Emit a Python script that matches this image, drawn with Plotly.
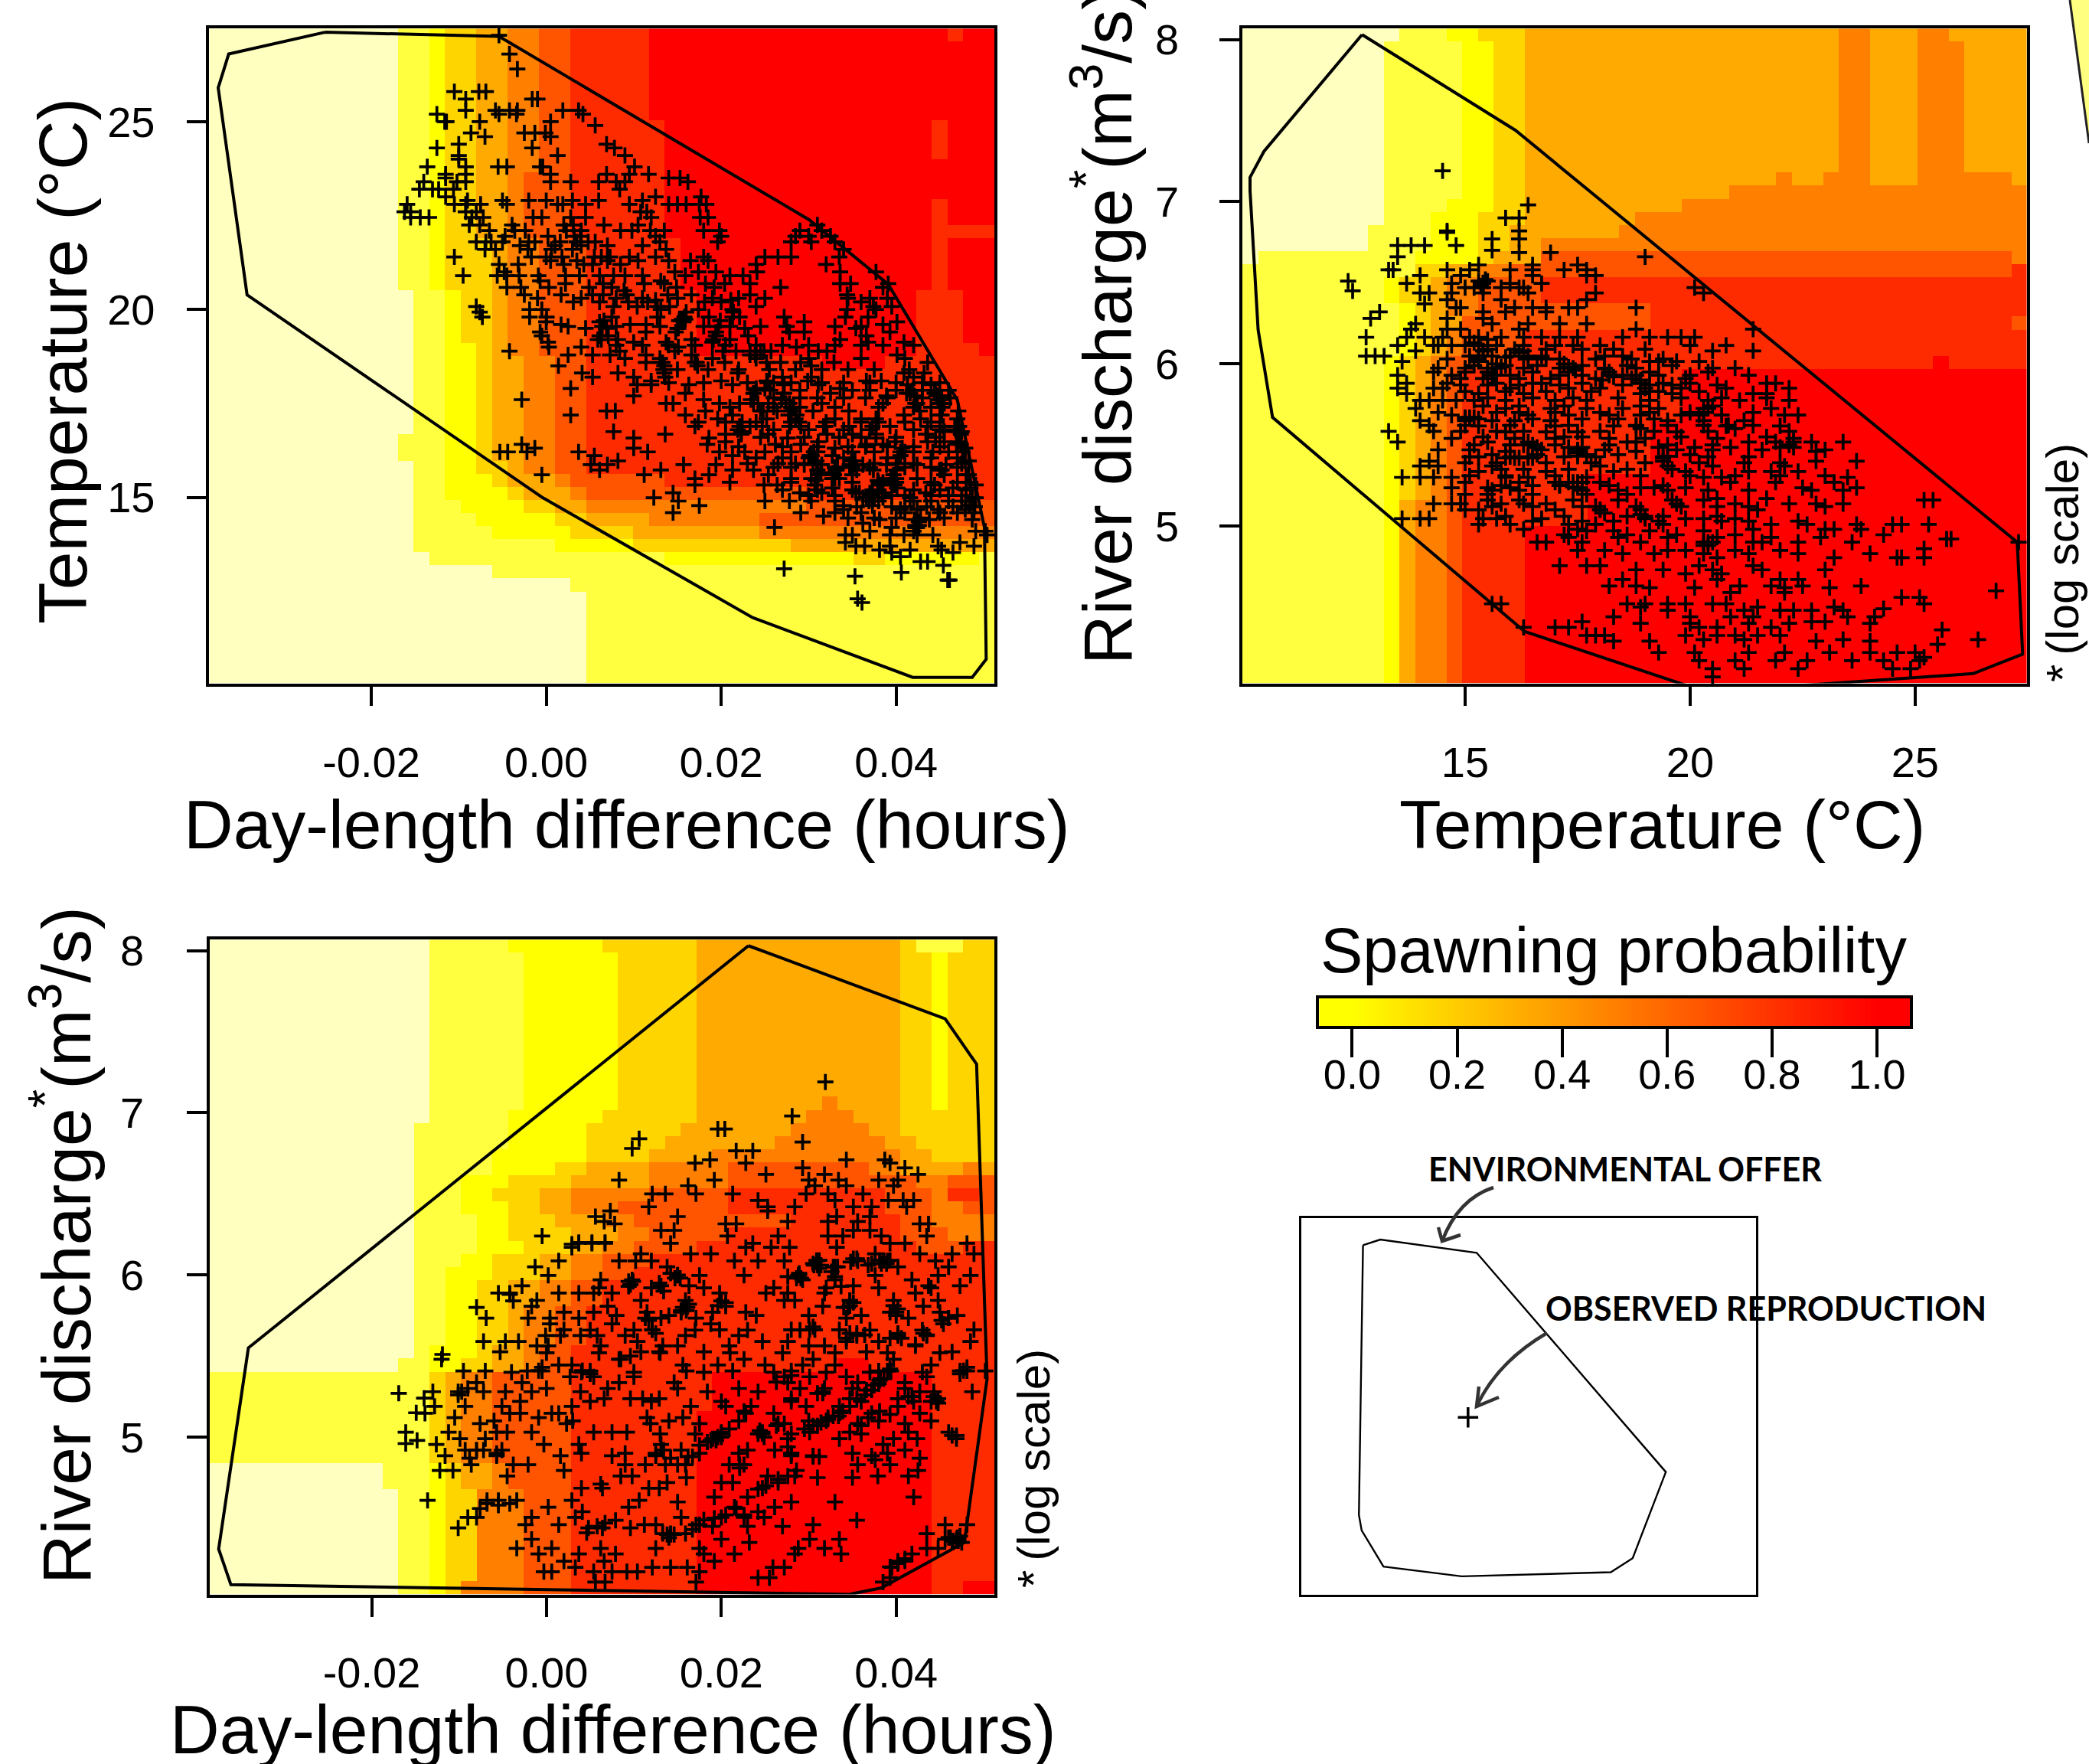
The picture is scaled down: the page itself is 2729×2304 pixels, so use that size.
import numpy as np
import plotly.graph_objects as go

W, H = 2729, 2304

# heat.colors(9), reversed: level 0 = palest, level 8 = red
LEVEL_COLORS = ["#FFFFBF", "#FFFF40", "#FFFF00", "#FFD500", "#FFAA00", "#FF8000", "#FF5500", "#FF2B00", "#FF0000"]

DL_TICKS = [-0.02, 0.0, 0.02, 0.04]
DL_LABELS = ["-0.02", "0.00", "0.02", "0.04"]
T_TICKS_Y = [15, 20, 25]
T_LABELS = ["15", "20", "25"]
Q_TICKS = [5, 6, 7, 8]
Q_LABELS = ["5", "6", "7", "8"]
PROB_TICKS = [0, 0.2, 0.4, 0.6, 0.8, 1.0]
PROB_LABELS = ["0.0", "0.2", "0.4", "0.6", "0.8", "1.0"]

DL_RANGE = [-0.03852, 0.05125]
T_RANGE = [10.05, 27.48]
Q_RANGE = [4.03, 8.068]

# Probability grids: (rows, "level:end_column ...") from the top row down, 50 x 50
GRID1 = [
    (1, "0:12 1:14 2:15 3:17 4:19 5:21 6:23 7:28 8:47 7:48 8:50"),
    (6, "0:12 1:14 2:15 3:17 4:19 5:21 6:23 7:28 8:50"),
    (3, "0:12 1:14 2:15 3:17 4:19 5:21 6:23 7:29 8:46 7:47 8:50"),
    (1, "0:12 1:14 2:15 3:17 4:19 5:21 6:23 7:29 8:50"),
    (2, "0:12 1:14 2:15 3:17 4:19 5:20 6:23 7:29 8:50"),
    (2, "0:12 1:14 2:15 3:17 4:19 5:20 6:23 7:29 8:46 7:47 8:50"),
    (1, "0:12 1:14 2:15 3:17 4:19 5:20 6:23 7:29 8:46 7:50"),
    (4, "0:12 1:14 2:15 3:18 4:19 5:21 6:24 7:30 8:46 7:47 8:50"),
    (4, "0:13 1:15 2:16 3:18 4:19 5:21 6:24 7:31 8:45 7:48 8:50"),
    (1, "0:13 1:15 2:17 3:18 4:19 5:21 6:24 7:31 8:45 7:49 8:50"),
    (1, "0:13 1:15 2:17 3:18 4:20 5:22 6:24 7:39 8:43 7:50"),
    (5, "0:13 1:15 2:17 3:18 4:20 5:22 6:24 7:50"),
    (2, "0:12 1:15 2:17 3:18 4:20 5:22 6:24 7:50"),
    (1, "0:13 1:15 2:17 3:19 4:20 5:22 6:24 7:50"),
    (1, "0:13 1:15 2:18 3:19 4:22 5:23 6:29 7:50"),
    (1, "0:13 1:15 2:19 3:20 4:23 5:24 6:38 7:50"),
    (1, "0:13 1:16 2:20 3:22 4:24 5:38 6:50"),
    (1, "0:13 1:17 2:22 3:24 4:28 5:35 6:50"),
    (1, "0:13 1:18 2:23 3:27 4:35 5:50"),
    (1, "0:13 1:22 2:27 3:37 4:50"),
    (1, "0:14 1:29 2:41 3:43 2:49 1:50"),
    (1, "0:18 1:50"),
    (1, "0:23 1:50"),
    (7, "0:24 1:50"),
]
GRID2 = [
    (1, "0:10 1:13 2:15 3:18 4:38 5:40 4:43 5:45 4:50"),
    (10, "0:9 1:14 2:16 3:18 4:38 5:40 4:43 5:46 4:50"),
    (1, "0:9 1:14 2:16 3:18 4:34 5:35 4:37 5:40 4:43 5:49 4:50"),
    (1, "0:9 1:14 2:16 3:18 4:31 5:50"),
    (1, "0:9 1:13 2:16 3:18 4:28 5:50"),
    (1, "0:9 1:12 2:15 3:18 4:25 5:50"),
    (1, "0:8 1:12 2:15 3:17 4:24 5:50"),
    (1, "0:8 1:12 2:15 3:17 4:19 5:50"),
    (1, "0:1 1:11 2:15 3:16 4:19 6:49 5:50"),
    (1, "1:11 3:13 4:15 5:17 6:49 7:50"),
    (2, "1:9 2:10 3:12 4:13 5:15 6:19 7:50"),
    (1, "1:10 2:11 3:12 4:13 5:15 6:26 7:50"),
    (1, "1:10 2:11 3:12 4:14 6:26 7:49 6:50"),
    (2, "1:10 2:11 3:12 4:13 5:14 6:18 7:50"),
    (1, "1:9 2:10 3:11 4:12 5:13 6:17 7:44 8:45 7:50"),
    (4, "1:9 2:10 3:11 4:12 5:13 6:14 7:28 8:50"),
    (4, "1:9 2:10 3:11 4:12 5:13 6:14 7:26 8:50"),
    (2, "1:9 2:10 3:11 4:12 5:13 6:14 7:22 8:50"),
    (2, "1:9 2:10 4:11 5:13 6:14 7:22 8:50"),
    (12, "1:9 2:10 4:11 5:13 6:14 7:18 8:50"),
    (1, "1:10 4:11 5:13 6:14 7:18 8:50"),
]
GRID3 = [
    (1, "0:14 1:19 2:25 3:31 4:44 3:45 1:48 3:50"),
    (11, "0:14 1:20 2:26 3:31 4:44 3:46 2:47 3:50"),
    (1, "0:14 1:20 2:26 3:31 4:39 5:40 4:44 3:46 2:47 3:50"),
    (1, "0:14 1:19 2:25 3:31 4:38 5:41 4:44 3:50"),
    (1, "0:13 1:19 2:24 3:30 4:37 5:42 4:44 3:50"),
    (1, "0:13 1:19 2:24 3:29 4:36 5:43 4:45 3:50"),
    (1, "0:13 1:18 2:24 3:28 4:32 5:44 4:46 3:50"),
    (1, "0:13 1:18 2:22 3:24 4:28 5:33 6:42 5:44 4:48 5:49 4:50"),
    (1, "0:13 1:16 2:19 3:23 4:28 5:33 6:45 5:47 6:50"),
    (1, "0:13 1:16 2:18 3:21 4:23 5:28 6:33 7:43 6:46 5:47 7:49 6:50"),
    (1, "0:13 1:16 2:19 3:21 4:23 5:26 6:33 7:43 6:46 5:48 6:50"),
    (1, "0:13 1:17 2:19 3:22 4:25 5:27 6:37 7:44 6:46 5:50"),
    (1, "0:13 1:17 2:19 3:23 4:26 5:28 6:33 7:44 6:47 5:50"),
    (1, "0:13 1:17 2:20 3:23 4:25 5:27 6:31 7:45 6:48 7:50"),
    (1, "0:13 1:16 2:18 3:21 4:23 5:25 6:28 7:50"),
    (1, "0:13 1:15 2:18 3:21 4:23 5:25 6:27 7:50"),
    (2, "0:13 1:15 2:17 3:19 4:21 5:23 6:25 7:50"),
    (3, "0:13 1:15 2:17 3:19 4:20 5:22 6:24 7:50"),
    (1, "0:13 1:14 2:17 3:18 4:20 5:21 6:23 7:50"),
    (1, "0:12 1:14 2:16 3:18 4:20 5:21 6:23 7:40 8:42 7:50"),
    (3, "1:14 3:15 4:16 5:18 6:23 7:32 8:46 7:50"),
    (4, "1:14 3:15 4:16 5:18 6:23 7:31 8:46 7:50"),
    (2, "0:11 1:14 2:15 3:16 4:18 5:19 6:23 7:31 8:46 7:50"),
    (7, "0:12 1:14 2:15 3:17 5:20 6:23 7:31 8:46 7:50"),
    (1, "0:12 1:14 2:15 3:16 5:20 6:23 7:31 8:46 7:48 8:50"),
]

# Convex hulls of the environmental offer
HULL1_DL = [-25.3, -5.4, 30.05, 39.1, 47.0, 50.1, 50.3, 48.7, 41.9, 23.6, -0.4, -34.2, -37.5, -36.3, -25.3]
HULL1_T = [27.38, 27.27, 22.39, 20.67, 17.59, 14.2, 10.69, 10.21, 10.21, 11.8, 14.99, 20.39, 25.9, 26.8, 27.38]
HULL2_T = [12.71, 16.12, 27.27, 27.39, 26.29, 21.6, 20.1, 16.32, 10.72, 10.4, 10.22, 10.22, 10.53, 12.71]
HULL2_Q = [8.03, 7.44, 4.90, 4.21, 4.09, 4.0, 4.0, 4.35, 5.67, 6.21, 7.07, 7.15, 7.31, 8.03]
HULL3_DL = [23.1, 45.6, 49.2, 50.4, 47.8, 38.3, 34.6, -36.1, -37.5, -34.1, 23.1]
HULL3_Q = [8.03, 7.58, 7.30, 5.36, 4.35, 4.07, 4.03, 4.09, 4.31, 5.55, 8.03]
INSET_X = [13.5, 17.3, 38.5, 80.1, 72.8, 68.0, 35.2, 18.0, 13.2, 12.6, 13.5]
INSET_Y = [92.8, 94.3, 90.8, 32.6, 9.7, 6.0, 4.9, 7.5, 17.1, 21.2, 92.8]
INSET_PX = [36.6]
INSET_PY = [47.1]

# Observed reproduction, rows of (temperature, [day-length difference in 1/1000 h])
OBS1 = [
 (27.3,[-5.4]),(26.8,[-4.2]),(26.4,[-3.3]),(25.8,[-10.5,-7.7,-6.9]),(25.6,[-9.2,-1.6,-1.0]),
 (25.3,[-9.2,-5.8,-4.2,-3.3,1.9,3.7]),(25.2,[-12.5,-5.4,-3.4,4.2]),(25.0,[-11.4,-11.6,-7.6,0.5]),(24.9,[5.6]),
 (24.7,[-8.6,-2.5,-1.3,-0.1]),(24.6,[-7,.5]),(24.4,[-10,6.9]),(24.3,[-12.5,-1.6,7.8]),(24.1,[-10,1.3,9]),(24.0,[-10]),
 (23.8,[-13.6,-9.2,-5.5,-4.5,-0.7,-0.4,10.1]),(23.6,[-11.5,-9.2,.5,6.9,9.5,11.7]),(23.5,[-11.5,14,15.3]),
 (23.4,[-14,-10.2,-9.2,.5,2.8,6,8,9,16.2]),(23.2,[-14.5,-13,-12.3,-10.6,8.4]),(23.0,[-11.5,12.5,17.7]),(22.9,[-9,-5,-2,0,3,6,11]),
 (22.8,[-15.9,-10.5,-9.2,-7.5,-4.5,1.3,1.9,4.5,9.5,14,15,16,17.5,18.3]),(22.6,[-16.2,-9.2,-8,10.8,11.5,-15.5]),
 (22.45,[-15.5,-14.4,-13.4,-8.5,-7.2,-1.5,-0.5,2.8,4.5,12,17.6,18.5]),(22.25,[-8.8,-7.6,-3.9,2,3.1,6.6,10.5,31]),
 (22.1,[-6.5,-3.6,-2.4,2.3,4,8.5,9.8,11.9,13.5,18,19.8,31.5,29]),(21.95,[-4.7,.2,3.2,3.9,12.5,20,28.5,30,32.5]),
 (21.8,[-8,-6.9,-6.3,-5,-2,-1.3,1.6,3.5,4.8,5.6,13,19.6,28,30.3,33]),(21.7,[-3,1,4,7,11]),(21.6,[-7,-5.8,-2.1,.6,3,13.7,34]),
 (21.4,[-10.5,-1.7,0,1.8,5.5,6.3,7.3,9.5,12.5,18,25,26.5,28,33.5]),(21.3,[0.5,3.5,7,10.5,14,16.5,18.5]),(21.2,[-5.4,-3.2,2,4.3,5.3,8.5,24,32]),
 (21,[-4.8,33.6,14.7,17.4,19.4,24.1,37.7]),(20.9,[-9.5,-5.6,-4.5,-3.1,-.9,2.2,3.8,6.1,7.7,9,11,15.9,21,22.5]),
 (20.76,[-.7,13.1]),(20.69,[2.2,6.5,11.2,13.5,18.2,20.4,23.3,33.6,34.8,39.1]),(20.59,[-4.5,-2.9,.3,4.9,7.5,14.9,19.2,26.8,38.5]),
 (20.5,[8.9]),(20.39,[-2.5,1.7,5.3,6.5,9.2,13.9,16.6,23.3,34.4]),(20.3,[-1,4,8,11,15,19,22,25,34.5,37,39]),(20.25,[12.5,21.1]),(20.2,[3.1,6.1,11.6,18.1,20,36,9.4]),(20.08,[-8,7.7,10.4,12.7,14.1,24,39.5,37.4]),
 (20,[-1.9,-.5,17.4,21.3,34.4,37.7,13.1]),(19.93,[-7.6,16,21.4]),(19.8,[-7.3,-1.9,.04,7.5,18.6,22.1,27.2,34.2,36.8,15.8,12.7,21.3]),
 (19.74,[15.5,15.9]),(19.7,[15.2,15.6,6.6,19.9]),(19.67,[0,6.1,15.7,29.5,40.1]),(19.6,[1.7,9.6,11.4,38.5]),(19.55,[2.5,8,13,18,21,24.5,27.5,33,36,6.4,19.7]),(19.5,[4.5,6.9,15.1,22.7,35.4,15]),
 (19.4,[-.7,11.4,27.8,29.5,39.3,19.4,14.8]),(19.3,[-.5,19.4,36.6,23.1,6.1,7.1]),(19.2,[8.2,16.6,21,33.6,19.1,5.9,6.3]),(19.13,[.2,10,13.7,19,36.8,40.9]),
 (19.05,[8,11,14,17,20.5,24,27,30,33,36,38.5,42]),(19,[.3,4,15.1,28.6]),(18.89,[-4.2,8.4,14.7,20.2,21.7,23.3,24.9,31.1,32.1,25.7,24.5]),(18.79,[2.5,5.3,7.3,11.4,16.6,40.1,23.9,23.3]),
 (18.7,[9,19,24,30,36,41,13]),(18.59,[11.4,13.1,17,20.4,25.2,29.1,32.9,43.6,26.8,13.3,17.2]),(18.5,[1.4,30.3,13.5,17.3]),(18.4,[15,18.5,22,25.5,28.5,31.5,34.5,37.5,41.5,13.4]),(18.31,[4.1,8.2,13.5,21.9,40.9,43.2]),
 (18.2,[5.3,10,27,30.3,42,13.6]),(18.1,[12,20,29.9,36.6,38.3,25.2]),(18.05,[14,18,23,26,28,31.5,34,37,40,43,45,25.3]),(18,[10.4,12,16.3,21.3,31.1,41.3,44,27.2]),(17.9,[2.8,33.6,25,24]),
 (17.85,[24,29,35,37,40,43,46,25.6,41.9,44.5]),(17.77,[15.9,23.7,27.2,32.5,41.6,44.4,41.2,27.1,23.7]),(17.7,[10,38.9,44.8,45,42.1,44.6]),(17.65,[26,29,31,34,36.5,39,43,46.2]),(17.6,[-2.8,18,45.2,26.9,23.4,44.8]),
 (17.5,[13.7,14.5,19.8,22.1,23.7,25.4,27.8,31.5,38.5,42.2,45.5,27.4,45.1,24.2,42.4,45]),(17.4,[21,26,29,33,38,42,44,28,28.3,45.3]),(17.3,[6.9,7.9,18.2,24.5,26.4,30.5,34.6,47.1,28,42.7,24.8]),
 (17.19,[2.8,15.9,21.3,28.6,40.9,45.2,27.7,45]),(17.09,[19.6,33,36,37.7,42.8,28.5,25.2,47]),(17,[24,28,32,36,38,41,44,20.5,17.4,28.9,22.4]),
 (16.89,[17,22.1,23.3,24.7,27.8,29.1,31.9,34.6,37.3,39.3,43.6,46.7,31.7,45.4,47.2]),(16.8,[26,30,34,37,42,45,46.8,21.9]),(16.75,[7.7,22.3,47.1,47.5,45.5]),
 (16.68,[13.6,20.5,25.4,32.1,35,43.4,37.7,47.4,22.3]),(16.6,[24.5,29.5,33.5,36,40,44.5]),(16.58,[10,18.6,27.6,37.7]),(16.48,[20.5,31.1,39.9,43.6,45.5,47.1]),
 (16.41,[-2.8,18.4,26.2,29.1,36.6,38.5,46.9,47.4]),(16.35,[22,27,31,34.5,36.5,39,42,45]),(16.31,[-1.3,10,33,47.9,40.7]),(16.21,[-5.3,-4.4,-2.2,3.7,11.6,19.8,25,22.7,42,44.2,28,31,35,37.5,41,46,40.5,47.6,30.6]),
 (16.11,[5.5,21.3,30.1,32.7,40.5,30.3,30.35]),(16.05,[24,27,34,39,44,47,40.2,30]),(15.97,[8.2,35,48.3,47.9,30.9,34.9,35.3]),(15.9,[23,26.5,28.5,30.5,37.5,40,42,47.5]),(15.87,[5.1,7,15.7,19.4,29.5,31.5,35,36.2,38.9,42.4,45.7,35.3,34.7,35.05]),
 (15.8,[26,28,33,37,41,44,47,35,34.7,33.3]),(15.73,[6.1,13.1,21.3,23.7,33.2,37.4,45.2,45,33.1,40,35.5,31]),(15.65,[32.8,31.4]),(15.6,[-.5,11.2,18.6,25.4,35,39.7,48.3,45.5,32.9,48,31.1]),
 (15.5,[17,28,30.3,32.7,42.4,33,40,33.5,39.4]),(15.45,[37.9,30.8,39.4]),(15.4,[21,28,35,38,40,44,47,38.5,48.5]),(15.33,[17,24.9,26.4,30.7,38.1,44.4,49.1,38.2,39.8]),(15.25,[32.7,40.1,46.5,48.5]),
 (15.2,[27,31,35,38,42,45,48,37.3]),(15.12,[14.5,29,31.5,35.4,43.4,35.8,37,38.4]),(15.05,[30,33,37,39.5,41,44,46,47.5]),(14.99,[12.3,36.2,38.5,41.6,49.1,48.7,36.6,37.5]),(14.9,[15.1,25,27.8,30.3,47.5,33,38,42,44,46,48,36.9]),
 (14.78,[17.5,37.3,34,48.4]),(14.75,[35.5,39.5,41,43.5,46.5,49]),(14.68,[34,40.5,42.4,44.8,47.9]),(14.59,[14.5,29.1,33,36,41,45,47,48.9]),(14.5,[31.7]),(14.45,[34.5,37.5,40,42.8,45.5]),(14.41,[38.1,43.8,48.7,42.1]),
 (14.35,[42.6]),(14.31,[36.2]),(14.25,[42.2,42.6]),(14.2,[26.1,42.2,39.5,42.4,42.3]),(14.1,[37,49.1,50.2,42]),(14,[34.2,35,39.3,40.9,44.2,50.4,42.4]),(13.8,[34.2,47.3]),
 (13.7,[35.4,36.4,39.3,44.8,48.9]),(13.6,[38.1,41.6,45.2]),(13.53,[39.5,46.5]),(13.42,[40.5]),(13.29,[42.8,43.6]),(13.19,[45.4]),
 (13.1,[27.2]),(13,[40.6]),(12.9,[35.3]),(12.8,[46,46.1,45.9]),(12.3,[35.6]),(12.2,[36.1]),
]

# (river discharge axis value, [temperature])
OBS2 = [
 (7.19,[14.5]),(6.98,[16.4]),(6.9,[15.9,16.2]),(6.82,[14.6,16.2]),(6.81,[14.6]),(6.77,[15.6,16.2]),(6.73,[14.1,14.8,13.8,13.5]),
 (6.7,[15.6]),(6.686,[16.9,16.2]),(6.66,[13.5,19]),(6.61,[17.5,15.3,16.5]),(6.58,[13.3,13.4,14.6,15.1,16,16.5,17.2,17.7]),
 (6.545,[14,14.9,16.5,17.7,17.9]),(6.52,[15.45]),(6.5,[15.4]),(6.496,[13.7,15.4,16,16.7,14.7]),(6.48,[15.35]),(6.47,[15,15.2,15.4,15.8,16.2,16.3,20.1]),
 (6.437,[14,14.2,15.4,14.7,16.4,17.9,20.3]),(6.396,[15.8,17.7,14.6]),(6.37,[14.1]),(6.346,[14.8,14.9,16.1,16.5,17.5,17.3,18.8,16.8]),
 (6.32,[13.1,15.4,15.9,16.8]),(6.51,[12.4,15.3,15.5]),(6.45,[12.5]),(6.28,[12.9,14.6,15.4]),(6.247,[17.7,17.1,13.9,16.4,15.6]),
 (6.214,[14.9,14.6,13.8,16.2,18.8,21.4]),(6.164,[12.8,13.7,14.1,14.5,15.1,15.3,16.3,15.8,16.7,17.1,17.5,18.5,19.1,19.5,19.8,20.1]),
 (6.15,[15.5]),(6.13,[15.2]),(6.114,[13.5,14.3,14.4,14.7,15,15.3,15.7,16.3,17,17.4,18,20,20.8]),(6.09,[15.5,16.1,16.8,17.6,18.3,19]),(6.08,[13.9,15.4,16.3,20.5,21.4,15.4]),
 (6.07,[16.2]),(6.05,[15.3]),(6.048,[12.8,13,13.2,15.1,15.6,16,16.4,16.7,18.5,18.1]),(6.04,[15.9]),(6.03,[14.6,15.3,16.8,17.1,17.9,18.7,19.4,16.4]),(6.015,[13.6,15.3,19.1,19.3,19.7,20.2]),
 (6,[15.7,17.2]),(5.99,[15.2,15.9,16.6,17.6,18.6,19.6]),(5.98,[17.3,15.8]),
 (5.974,[14.4,15,15.7,16.3,17.1,17.4,18.1,18.8,21,20.5,15.6,15.5]),(5.97,[18.1]),(5.96,[17.45]),(5.95,[14.3,15,16.5,17.3,19.1,20.4,15.5,18.2]),(5.93,[13.5,14.7,15.6,16,17.1,17.6,18.2,18.5,19.3,21.3,20,15.65,18.8]),
 (5.92,[18.3]),(5.91,[14.9,15.4,16.2,16.9,17.9,18.7,19.9]),(5.9,[18.05,18.9]),(5.88,[13.7,14.6,15.7,16.5,16.7,17.6,18.9,19.4,20,21.7,21.9,18.9]),(5.87,[14.9,15.5,16.2,17.1,18.5,19.1,19.6,20.6]),(5.85,[13.5,14.3,14.5,16,17.3,18,19.8,20.8,22.2,19]),
 (5.83,[15,15.9,16.8,17.8,19.3,20.2,19.1]),(5.816,[13.7,15.3,16.3,18.9,19.6,21.4,21.7]),(5.79,[15.5,16.5,17.4,18.4,19.8,20.7,21.7]),(5.775,[14,14.2,14.5,14.8,15.2,15.9,17,17.7,19.1,20.4,21.1,22.2]),
 (5.74,[15.4,16.2,17.2,18.9,20.5]),(5.725,[13.9,15.9,16.9,17.7,18.5,19.3,20.3,21.8,20.4]),(5.7,[14.4,15.7,16.2,17,18,19.1,20,21.4,20.3]),(5.684,[14.7,16.4,17.3,18.2,18.9,19.8,20.7,22.1,22.4,20.2]),
 (5.67,[15,15.1,15.2]),(5.66,[15.3,16.5,17.6,18.4,19.2,15]),(5.65,[14,15,15.6,16.1,16.9,19.5,20.3,21.2]),(5.62,[14.2,15,16,17.3,19.5,20.3,21.4,20.85,18.8]),(5.617,[15.3,17,18.3,18.8,20.8,22]),(5.6,[21,18.9]),
 (5.584,[13.3,14.3,14.9,15.7,16.3,18,19.2,20.4,22.2]),(5.58,[15.9,16.8,17.5,19.7]),(5.55,[15.4,17.2,17.6,19.8,21.7]),(5.54,[14.7,16.1,17,18.2,19,20.6,22.3]),
 (5.518,[13.5,15.5,16.4,18.6,18.8,21.3,21.9,22.7,23.4,22.3]),(5.5,[15.2,16,17,18.2,19.5,20.5,16.3,16.5,22.2]),(5.485,[16.6,17.3,19.3,20.1,20.9,22.3,17.6,22]),(5.47,[14.4,15.1,16.7,18.1,19.7,20.5,21.6,23,17.5]),
 (5.46,[15.9,17.5,18.8,22.8]),(5.45,[17.5]),(5.44,[15.6,16.6,17.7,18.4,20]),(5.43,[17.5,19.5]),(5.427,[15.1,15.3,16,16.4,17.2,17.9,19.4,20.4,21.3]),(5.42,[15.9,16.1,16.2,16.4,16.5,19.4]),
 (5.4,[14.2,22.8,23.7,19.4]),(5.39,[15,15.7,16.8,17.8,19,20.2,21.2,22]),(5.37,[14,14.4,15.6,18,19.5,20.5,22.1]),(5.35,[15.8,16.3,17.3,18.6,19.6]),(5.336,[15.3,16.8,18.3,19.9,21.3,21.8,22.4]),
 (5.31,[15.1,15.9,17,18.9,20,21,22,23]),(5.3,[13.6,14,14.3,14.7,15.9,16.4,17.7,20.3,20.7,23.5]),(5.27,[15,16.2,17,17.3,18,20.9,21.9,23.2,17.4,17.5,17.6]),(5.25,[15.8,16.5,17.1,18.2,19.4,17.1]),
 (5.24,[17.4]),(5.236,[14.7,15.5,16,17.5,18.9,19.2,19.9,23.7,22.5]),(5.22,[15.6,16.2,17.6,18.4,19.5,20.4,21.3,22.7,23.4]),(5.195,[15,15.5,16.5,18.6,17.7]),(5.17,[20.6,21.7]),(5.16,[15.5,16.2,17.4,18.4,19.6,20.3,25.2,25.4]),
 (5.137,[14.3,14.7,14.9,15.8,16.3,16.8,19.7,21,22.2,22.8,23.4]),(5.12,[15.6,16.5,17.6,18.8,19.8,20.6,21.3,23,17.9]),(5.1,[15,15.3,17,18,18.9,21.5,18]),(5.08,[18.1]),(5.07,[18.9]),(5.06,[15.9,17.2,18.6,19.4,20.6,19]),
 (5.046,[13.6,14,14.2,15.4,15.7,16.7,19,19.9,20.3,21]),(5.03,[16.5,17.6,18.3,19.3,20.7,21.3,22.4]),(5.01,[15.3,16,17.3,17.9,19.4,21.8,22.6,23.7,24.7,24.5,25.3]),(4.98,[16.3,17.5,21.4,23,23.2,23.8]),
 (4.97,[17.7,18.3,19.1,20.3]),(4.946,[17.2,18.6,19.7,21,24.3]),(4.93,[17.3,18.4,19.5,20.6,21.8,22.9]),(4.92,[25.8,25.7]),(4.9,[16.6,16.8,17.6,18.9,20.3,21.4,22.4,23.6,21.6,20.4,20.5,27.3]),
 (4.88,[20.3,20.4]),(4.86,[25.2]),(4.85,[17.5,18.1,19.5,19.9,21,22]),(4.83,[18.5,19.2,20.3,21.3,22.4,24]),(4.805,[20.6,23.2,24.7,24.6,25.2]),(4.755,[17.1,18,17.7,20.2,21.4]),(4.73,[18.8,19.4,20.5,21.6,23]),(4.706,[19.9,20.7]),
 (4.67,[20.6,22,18.5,22.4]),(4.63,[18.2,18.8,21.1,22.5,21.8,23.8]),(4.62,[19.1,20.1,22.1,23.1]),(4.6,[26.8]),(4.59,[20.9,22.1]),(4.56,[24.7,25.1]),(4.52,[15.6,15.8,18.6,19,19.5,19.9,20.5,20.8,25.2]),
 (4.5,[18.9,21.5,23.2]),(4.49,[24.3]),(4.48,[19.5,21.2,22,22.3,22.7,23.4]),(4.44,[18.3,20,20.9,21.4,23.5,24.1]),(4.41,[17.6,23,22.7]),(4.4,[18.9,20,21.3,22.2,24]),(4.375,[16.3,17,17.3,20.2,21.8,20.6]),
 (4.36,[25.6]),(4.325,[17.7,17.9,18.1,21,21.5,22,19.9,20.6]),(4.3,[26.4,20.3,21.2,23.4]),(4.29,[18.3,19.1,24,22.8]),(4.27,[25.5]),(4.22,[19.3,20.1,21.3,22.1,23.1,24,24.6,25]),
 (4.19,[25.2]),(4.17,[20.2,21,21.9,22.6,23.6,24.3,25.1]),(4.12,[20.5,21.2,22.4,24.5,24.9]),(4.07,[20.5]),
]

# (river discharge axis value, [day-length difference in 1/1000 h])
OBS3 = [
 (7.19,[31.9]),(6.98,[28.1]),(6.9,[19.6,20.4]),(6.84,[10.6]),(6.82,[29.3]),(6.78,[9.8]),(6.765,[21.7,23.6]),(6.71,[18.7,34.3,38.7]),(6.69,[17,22.8,39.3]),
 (6.66,[29.3,41]),(6.62,[25.1,31.8,42.5]),(6.585,[8.3,19.2,38,30,40.2,33.4]),(6.55,[16.2,34.3,39.7,30.7]),(6.5,[17.1,21.3,12.1,13.6,29.7,32.2,36.2]),
 (6.46,[24.2,33,39.1,40.8,42]),(6.42,[11.7,25.3,28.4,35.1,37.2,41.2]),(6.395,[7.3,25.3]),(6.36,[5.6,15,33.2,37]),(6.33,[6.6,27.6,32.2,35.6]),
 (6.315,[7.8,20.5,21.7,42.7,43.7]),(6.275,[13.1,14.6,35.1,37]),(6.24,[-0.5,20.7,26.5,32.2,33.9,38.3,43.5]),(6.2,[3.7,5.2,6.7]),(6.195,[3.7,6.7,5.2,23.6,14.2,41,48.1,39.3]),(6.19,[2.9]),
 (6.17,[2.9,22.8,25.7,27.8,33.2]),(6.13,[10.8,16.5,18.8,37.6,42.7,46.4,48.9]),(6.1,[35.1,35.5]),(6.09,[38.6,39.3,31.2,30.9,38.1]),
 (6.087,[1.4,8.3,12,10.2,21.5,24.2,27.2,30.9,35.6,39,44.5]),(6.08,[34.8]),(6.07,[37.2,38.3,38.9,30.5]),(6.06,[31,31.4,30.6,36.8]),(6.05,[-1.3,13.8,32.8,40.2,46,33.3,33]),(6.04,[31.2]),
 (6.02,[32.6]),(6.01,[14.2,28.9]),(6,[15,28.9]),(5.997,[.2,17.5,15,22.6,28.8,37.6,44.8,48.5]),(5.99,[33,27.6]),(5.98,[28.6,29.1,14.7,15.3]),(5.97,[9.8,6.2,33,41.8,29.3]),(5.96,[9.4,9.9]),
 (5.95,[12.9]),(5.94,[9.6]),(5.933,[-2.8,13.1,16.3,35.1,47.3,43.7]),(5.93,[33.7,9.4]),(5.92,[6,12,18,26,32,38,44]),(5.9,[13.4]),(5.888,[-5.5,1.4,-4.2,3.7,5.4,7.5,19.8,27.6,31.8,42.2,25.1]),(5.88,[-4.2]),
 (5.843,[-1.1,10.8,15.9,27.2,28.4,34.7,39.7,44.8,34.7]),(5.84,[20,-3.8]),(5.83,[20.5,35.1]),(5.82,[16.3]),(5.81,[19.6,34.7,39.7]),(5.807,[-1.7,7,20.5,31.6,43.1]),(5.8,[-8,15.6,16.1,34,34.5]),(5.79,[40.2]),(5.78,[15.4,16]),
 (5.77,[2,5.4,11.5,19,22.8,40,45,15.4,39.3]),(5.75,[8,14,24,30,36,40,47]),(5.734,[-2.1,.4,3.7,13.1,17.1,34.3,41.4,46,-6.9,11.3,46]),(5.72,[11.7,45.2]),(5.698,[.4,7.5,18.8,45.4]),(5.68,[30.5]),
 (5.662,[2,12.1,19.8,28,30.7,33.5,48.9,12.1,30.1]),(5.66,[5,10,17,23,29,37,43]),(5.64,[12.5,34.7,35.5,40.2,43.1]),(5.63,[36.4,43.5]),(5.626,[-.1,1.6,3.9,5.8,9,15.9,22,35.5,40.2,43.5]),(5.61,[34.3,40.6,39.3]),(5.59,[-3.2,-4.7,-7.2,10.4,24.7,38,48.5,34.3,27.6]),
 (5.57,[42.2]),(5.563,[-1.1,.2,6.2,13.3,15,20.9,30,31.8,42.2]),(5.526,[-5.3,12.9,18,46.4,36.6,10.8]),(5.52,[0,6,13,21,27,33,39,45]),(5.51,[-11.9]),(5.5,[9.6]),(5.48,[-12,8.5,22.6,30.5,39.7,8.3]),
 (5.445,[1.4,2.9,15.6,19.6,25,29.3,33,44]),(5.43,[-.5,48.1]),(5.42,[39.3]),(5.41,[4.1,-.9,47.7]),(5.408,[-9.5,-7,-2.2,-.5,5,16,21.3,28,38,48.1,50.2,47.3,39,39.4]),(5.4,[-4,4,10,18,26,32,37,43]),(5.39,[5,47.3]),
 (5.38,[28]),(5.372,[2.7,10,30.1,34.3,43.5,27.2,5.4]),(5.36,[38.2,38.6]),(5.35,[38.1]),(5.34,[26.3]),(5.336,[-8,-2.8,8.3,14.6,27.6,41,35.6]),(5.33,[38]),(5.32,[37.5]),(5.3,[-9,0,7,15,22,29,35,41,31.8]),
 (5.29,[36.6,37.2]),(5.28,[-13,-10.1,-7.2,-4.7,-1.7,3.9,18.4,24.2,31.6,44.3,48.7,42.7,-9.7]),(5.27,[-16.9,31,31.6]),(5.26,[36.4,-10.1]),(5.25,[41.4,41.8,44.3]),(5.24,[-14]),(5.237,[6.6,9.6,11,12.9,28,34.7,44.8,40.2,35.5]),
 (5.22,[-3,5,12,20,28,36,42,44,44.6]),(5.21,[44.8]),(5.19,[-12.8,-9.3,-5.1,2.9,16.5,20.5,29.7,33.5,34.7,23.4,40.2]),(5.16,[33.9,22.6,38.1]),(5.15,[-14.9,33.6]),(5.147,[-13.9,-4.2,-3,.6,1.4,22.8,26,37.2,42.7]),(5.14,[39.3]),
 (5.13,[32.8,33.4]),(5.12,[-10.5,-.9,11.5,15.6,32.2,36.8]),(5.11,[32.2]),(5.1,[-6,3,14,22,30,38,44,32]),(5.09,[31.4]),(5.083,[-7.6,2.3,11.9,17.5,26.5,35.6,41,27.2]),(5.07,[31,36,26.3,30.5]),(5.05,[20.9,29.5]),(5.04,[24.4]),
 (5.03,[-11.2,-5.7,-4.5,-1.7,5.4,7.5,9.2,20,24.7,30.1,34.7,46,41.4,-16.1]),(5.02,[13,17,28,36,24.2,24.7,20]),(5.01,[46.4,46.9]),(5,[19.6,20,24.9]),(4.99,[-9.9,-7,19,27.6,33.5,39.7,42.4,46.9]),
 (4.98,[-14.8,18.8,19.4]),(4.97,[18.4]),(4.96,[-16.1]),(4.955,[-12.6,-.3,3.7,13.1,38.5]),(4.95,[17.5]),(4.94,[27.6]),(4.92,[-9.3,-8,-5.1,15.4,23,26.1,41,13.4,-7.2,-8]),(4.9,[4,9,22,28,35,39,12.5,17.5,-5.7,28]),
 (4.885,[-11.6,-5.7,1.6,7.5,12.5,28,30.5,37.2]),(4.88,[16.2,16.7,30.5,31.2]),(4.87,[14.2,42.7,-8.8]),(4.86,[37.6]),(4.83,[-8.6,-3.8,-2.1,9,11.3,13.6,15.9,20.9,35.6,39.3,22.1,15,22.6]),(4.81,[22.1]),(4.794,[-12.2,-10.7,2,28.6,42.5]),
 (4.76,[-4.5,8.5,9.8,25.3,28.4,37.9,41.4,27.6]),(4.75,[16,31,35]),(4.74,[26.5]),(4.72,[20,21.3,26.5,13.8]),(4.71,[6.2]),(4.7,[25.1]),(4.685,[4,6.4,11.7,12.9,24.7]),(4.68,[24.2]),(4.63,[19.2,23,42]),
 (4.61,[-13.6,-6.8,-5.5,-3.4,2.9,10.6]),(4.6,[15,28,33]),(4.59,[-6.8,-4.2]),(4.58,[-5.5]),(4.568,[.2,9.4,21.5,26.1]),(4.56,[-7.6,21.7]),(4.54,[4.1,24.2]),(4.52,[20.5,22.6]),(4.505,[-9,-8,-1.7,3.3,15.4,20,22.6,24.9]),(4.5,[19.2]),(4.49,[18]),(4.487,[7.9,35.5]),
 (4.47,[6.7]),(4.46,[-2.4,1.4,11.2,12.5,17.1,30.5,45.6,48.1,17.5]),(4.45,[19,23,27,5.8]),(4.44,[-10.1,4.8,6.4,9.6]),(4.43,[16.7]),(4.41,[4.6]),(4.405,[13.3,14.2,15.9,43.5]),(4.4,[13.8,14.2,14.6]),(4.39,[47.3]),(4.38,[46.2,47,14,46]),
 (4.37,[-1.7,20,30.1,33.5,46.9,45.6]),(4.36,[46.5,47.1,46.4]),(4.35,[23.2,47.5]),(4.314,[-3.4,.6,6.2,12.5,17.5,28.8,31.8,43.5,44.8]),(4.28,[-.9,3.7,7.9,18,21.5,28.4,33.7,41.8]),(4.25,[41]),
 (4.235,[2,6.6,19.2,40.2,41]),(4.22,[40.2]),(4.2,[39.3]),(4.197,[3.3,12.1,14.2,16.1,25.9,27.2,39.5]),(4.17,[-.3,.6,5.4,7.5,9.2,10.4,17.5]),(4.133,[24.2,25.5,39.3]),(4.106,[5.6,6.7,17.1,38.5]),
]


def px_x(p):
    return p / W


def px_y(p):
    return 1 - p / H


def expand(grid):
    rows = []
    for count, spec in grid:
        row, start = [], 0
        for token in spec.split():
            level, end = token.split(":")
            row += [int(level)] * (int(end) - start)
            start = int(end)
        rows += [row] * count
    return rows[:50][::-1]


def flatten(rows):
    ys, xs = [], []
    for y, values in rows:
        for x in values:
            ys.append(y)
            xs.append(x)
    return np.array(xs, float), np.array(ys, float)


STOPS = []
for i, c in enumerate(LEVEL_COLORS):
    STOPS += [[i / 9, c], [(i + 1) / 9, c]]

fig = go.Figure()


def panel(idx, grid, xr, yr, hx, hy, px_, py_):
    sfx = "" if idx == 1 else str(idx)
    nx, ny = 50, 50
    dx = (xr[1] - xr[0]) / nx
    dy = (yr[1] - yr[0]) / ny
    fig.add_trace(go.Heatmap(z=expand(grid), x0=xr[0] + dx / 2, dx=dx, y0=yr[0] + dy / 2, dy=dy,
                             colorscale=STOPS, zmin=-0.5, zmax=8.5, showscale=False, hoverinfo="skip",
                             xaxis="x" + sfx, yaxis="y" + sfx))
    fig.add_trace(go.Scatter(x=hx, y=hy, mode="lines", line=dict(color="black", width=4), cliponaxis=False,
                             showlegend=False, hoverinfo="skip", xaxis="x" + sfx, yaxis="y" + sfx))
    fig.add_trace(go.Scatter(x=px_, y=py_, mode="markers", cliponaxis=False, showlegend=False, hoverinfo="skip",
                             marker=dict(symbol="cross-thin", size=15, color="black", line=dict(color="black", width=3.7)),
                             xaxis="x" + sfx, yaxis="y" + sfx))


d1, t1 = flatten(OBS1)
t2, q2 = flatten(OBS2)
d3, q3 = flatten(OBS3)
panel(1, GRID1, DL_RANGE, T_RANGE, np.array(HULL1_DL) / 1000, HULL1_T, d1 / 1000, t1)
panel(2, GRID2, T_RANGE, Q_RANGE, HULL2_T, HULL2_Q, t2, q2)
panel(3, GRID3, DL_RANGE, Q_RANGE, np.array(HULL3_DL) / 1000, HULL3_Q, d3 / 1000, q3)

# colour key
key_vals = np.linspace(-0.0627, 1.0627, 220)
fig.add_trace(go.Heatmap(z=[key_vals], x=key_vals, y=[0], colorscale=[[0, "#FFFF00"], [1, "#FF0000"]],
                         zmin=0, zmax=1, showscale=False, hoverinfo="skip", xaxis="x4", yaxis="y4"))
# inset legend
fig.add_trace(go.Scatter(x=INSET_X, y=INSET_Y, mode="lines", line=dict(color="black", width=2.4), showlegend=False,
                         hoverinfo="skip", xaxis="x5", yaxis="y5"))
fig.add_trace(go.Scatter(x=INSET_PX, y=INSET_PY, mode="markers", showlegend=False, hoverinfo="skip",
                         marker=dict(symbol="cross-thin", size=19, color="black", line=dict(color="black", width=3.6)),
                         xaxis="x5", yaxis="y5"))

FONT = "Liberation Sans, Arial, sans-serif"


def axis(domain_px, rng, tickvals, ticktext, standoff, horizontal, lw=3.5, ticklen=26, size=56):
    if horizontal:
        dom = [px_x(domain_px[0]), px_x(domain_px[1])]
    else:
        dom = [px_y(domain_px[1]), px_y(domain_px[0])]
    return dict(domain=dom, range=rng, tickmode="array", tickvals=tickvals, ticktext=ticktext, ticks="outside",
                ticklen=ticklen, tickwidth=3.5, tickcolor="black", showline=True, mirror=True, linewidth=lw,
                linecolor="black", showgrid=False, zeroline=False, ticklabelstandoff=standoff,
                tickfont=dict(family=FONT, size=size, color="black"), layer="above traces")


P1X, P1Y = (273.4, 1299.2), (37.2, 892.5)
P2X, P2Y = (1623, 2647.6), (37.2, 892.5)
P3X, P3Y = (274, 1299.2), (1227.2, 2082.5)

layout = dict(
    width=W, height=H, margin=dict(l=0, r=0, t=0, b=0, pad=0, autoexpand=False), paper_bgcolor="white", plot_bgcolor="white",
    showlegend=False, font=dict(family=FONT, color="black"),
    xaxis=dict(axis(P1X, DL_RANGE, DL_TICKS, DL_LABELS, 26, True), anchor="y"),
    yaxis=dict(axis(P1Y, T_RANGE, T_TICKS_Y, T_LABELS, 30, False), anchor="x"),
    xaxis2=dict(axis(P2X, T_RANGE, T_TICKS_Y, T_LABELS, 26, True), anchor="y2"),
    yaxis2=dict(axis(P2Y, Q_RANGE, Q_TICKS, Q_LABELS, 42, False), anchor="x2"),
    xaxis3=dict(axis(P3X, DL_RANGE, DL_TICKS, DL_LABELS, 25, True), anchor="y3"),
    yaxis3=dict(axis(P3Y, Q_RANGE, Q_TICKS, Q_LABELS, 45, False), anchor="x3"),
    xaxis4=dict(axis((1723.4, 2495), [-0.0627, 1.0627], PROB_TICKS, PROB_LABELS, -24, True, lw=4, ticklen=37, size=54), anchor="y4"),
    yaxis4=dict(domain=[px_y(1340), px_y(1304)], range=[-0.5, 0.5], showticklabels=False, ticks="", showline=True,
                mirror=True, linewidth=4, linecolor="black", showgrid=False, zeroline=False, anchor="x4"),
    xaxis5=dict(domain=[px_x(1700.4), px_x(2294.4)], range=[0, 100], showticklabels=False, ticks="", showline=True,
                mirror=True, linewidth=2.5, linecolor="black", showgrid=False, zeroline=False, anchor="y5"),
    yaxis5=dict(domain=[px_y(2083), px_y(1591)], range=[0, 100], showticklabels=False, ticks="", showline=True,
                mirror=True, linewidth=2.5, linecolor="black", showgrid=False, zeroline=False, anchor="x5"),
)


def note(text, x, y, size, angle=0, family=FONT):
    return dict(text=text, x=px_x(x), y=px_y(y), xref="paper", yref="paper", showarrow=False, xanchor="center",
                yanchor="middle", textangle=angle, font=dict(family=family, size=size, color="black"))


RIVER = "River discharge<sup>*</sup>(m<sup>3</sup>/s)"
HAND = "Lato, Liberation Sans, sans-serif"
layout["annotations"] = [
    note("Day-length difference (hours)", 818, 1077, 89.5),
    note("Temperature (°C)", 2171, 1077, 89.5),
    note("Day-length difference (hours)", 800, 2259, 89.5),
    note("Temperature (°C)", 82, 472, 89.5, -90),
    note(RIVER, 1440, 426, 89.5, -90),
    note(RIVER, 80, 1627, 89.5, -90),
    note("*\u2009(log scale)", 2694, 735, 60, -90),
    note("*\u2009(log scale)", 1350, 1918, 60, -90),
    note("Spawning probability", 2108, 1241, 83),
    note("<b>ENVIRONMENTAL OFFER</b>", 2123, 1526, 43, family=HAND),
    note("<b>OBSERVED REPRODUCTION</b>", 2307, 1708, 43, family=HAND),
]


def path(points, close=False):
    parts = []
    for cmd, pts in points:
        parts.append(cmd + " ".join(f"{px_x(a):.5f},{px_y(b):.5f}" for a, b in pts))
    return " ".join(parts) + (" Z" if close else "")


ARROW = dict(color="#333333", width=4.5)
layout["shapes"] = [
    dict(type="path", xref="paper", yref="paper", line=ARROW,
         path=path([("M", [(1951, 1551)]), ("Q", [(1905, 1566), (1884, 1621)])])),
    dict(type="path", xref="paper", yref="paper", line=ARROW,
         path=path([("M", [(1879, 1603)]), ("L", [(1884, 1621)]), ("L", [(1908, 1613)])])),
    dict(type="path", xref="paper", yref="paper", line=ARROW,
         path=path([("M", [(2021, 1741)]), ("Q", [(1956, 1779), (1929, 1837)])])),
    dict(type="path", xref="paper", yref="paper", line=ARROW,
         path=path([("M", [(1932, 1811)]), ("L", [(1929, 1837)]), ("L", [(1958, 1825)])])),
    dict(type="path", xref="paper", yref="paper", fillcolor="#FFFF80", line=dict(color="#FFFF80", width=1), opacity=1,
         path=path([("M", [(2704, 0)]), ("L", [(2729, 187)]), ("L", [(2729, 0)])], close=True)),
    dict(type="line", xref="paper", yref="paper", x0=px_x(2704), y0=px_y(0), x1=px_x(2729), y1=px_y(187),
         line=dict(color="#222222", width=3)),
]

fig.update_layout(**layout)
fig.write_html("out.html", config=dict(displayModeBar=False),
               post_script="document.body.style.margin='0';document.body.style.overflow='hidden';")
